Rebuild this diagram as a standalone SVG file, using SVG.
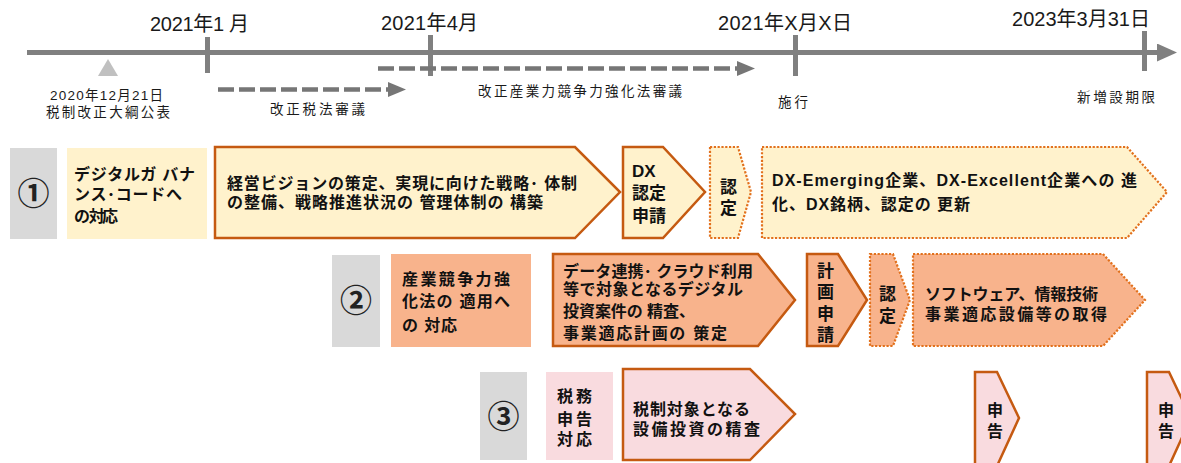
<svg xmlns="http://www.w3.org/2000/svg" width="1181" height="463" viewBox="0 0 1181 463">
<style>
.ax{stroke:#808080;stroke-width:5;fill:none}
.dash{stroke:#767676;stroke-width:4.5;fill:none;stroke-dasharray:16 5}
.lbl{font-family:"Liberation Sans","Noto Sans CJK JP",sans-serif;fill:#1a1a1a}
.big{font-size:20px}
.sm{font-size:13.5px}
.gray{fill:#d9d9d9}
.yel{fill:#fff2cc}
.pch{fill:#f8b38c}
.pnk{fill:#f9dbdf}
.solid{stroke:#c55a11;stroke-width:2.5;stroke-linejoin:miter}
.dot{stroke:#e2711d;stroke-width:2.2;stroke-dasharray:2.2 1.6}
.t{font-family:"Liberation Sans","Noto Sans CJK JP",sans-serif;font-weight:700;font-size:16px;fill:#111}
.t17{font-size:17px}
.num{font-family:"Noto Sans CJK JP",sans-serif;font-weight:700;font-size:32px;fill:#222;text-anchor:middle}
</style>
<defs>
<marker id="axHead" markerUnits="userSpaceOnUse" markerWidth="20" markerHeight="18" viewBox="0 0 20 18" refX="0" refY="9" orient="auto"><path d="M0,0 L20,9 L0,18 z" fill="#808080"/></marker>
<marker id="dHead" markerUnits="userSpaceOnUse" markerWidth="18" markerHeight="15" viewBox="0 0 18 15" refX="0" refY="7.5" orient="auto"><path d="M0,0 L18,7.5 L0,15 z" fill="#767676"/></marker>
</defs>

<g id="timeline">
<line class="ax" x1="27" y1="52.5" x2="1157" y2="52.5" marker-end="url(#axHead)"/>
<line class="ax" x1="207.5" y1="37" x2="207.5" y2="73"/>
<line class="ax" x1="430.5" y1="35" x2="430.5" y2="76"/>
<line class="ax" x1="795.5" y1="35" x2="795.5" y2="76"/>
<line class="ax" x1="1144.5" y1="31" x2="1144.5" y2="71"/>
<polygon points="98,76 108,59 118,76" fill="#c0c0c0"/>
<text class="lbl big" x="150" y="31" textLength="99" lengthAdjust="spacing">2021年1 月</text>
<text class="lbl big" x="381" y="30" textLength="97" lengthAdjust="spacing">2021年4月</text>
<text class="lbl big" x="718" y="30" textLength="134" lengthAdjust="spacing">2021年X月X日</text>
<text class="lbl big" x="1012" y="26" textLength="138" lengthAdjust="spacing">2023年3月31日</text>
<text class="lbl sm" x="50" y="100" textLength="113" lengthAdjust="spacing">2020年12月21日</text>
<text class="lbl sm" x="46" y="117" textLength="124" lengthAdjust="spacing">税制改正大綱公表</text>
<text class="lbl sm" x="270" y="114" textLength="95" lengthAdjust="spacing">改正税法審議</text>
<text class="lbl sm" x="478" y="96" textLength="204" lengthAdjust="spacing">改正産業力競争力強化法審議</text>
<text class="lbl sm" x="778" y="107" textLength="30" lengthAdjust="spacing">施行</text>
<text class="lbl sm" x="1077" y="102" textLength="78" lengthAdjust="spacing">新増設期限</text>
</g>

<g id="connectors">
<line class="dash" x1="218" y1="89.5" x2="388" y2="89.5" marker-end="url(#dHead)"/>
<line class="dash" x1="378" y1="68.5" x2="737" y2="68.5" marker-end="url(#dHead)"/>
</g>

<g id="row1-label"><rect class="gray" x="10" y="148" width="47" height="91"/><text class="num" x="33.5" y="205">①</text></g>
<g id="row1-title"><rect class="yel" x="67" y="148" width="140" height="91"/>
<text class="t" x="74" y="180" textLength="121" lengthAdjust="spacing">デジタルガ バナ</text>
<text class="t" x="74" y="200" textLength="108" lengthAdjust="spacing">ンス･コードへ</text>
<text class="t" x="74" y="222" textLength="44" lengthAdjust="spacing">の 対応</text></g>
<g id="row1-step1"><polygon class="yel solid" points="215,147 575,147 620,192 575,238 215,238"/>
<text class="t" x="227" y="189" textLength="350" lengthAdjust="spacing">経営ビジョンの策定、実現に向けた戦略･ 体制</text>
<text class="t" x="227" y="208" textLength="316" lengthAdjust="spacing">の整備、戦略推進状況の 管理体制の 構築</text></g>
<g id="row1-step2"><polygon class="yel solid" points="623,147 663,147 705,192 663,238 623,238"/>
<text class="t t17" x="632" y="177">DX</text>
<text class="t t17" x="632" y="199">認定</text>
<text class="t t17" x="632" y="222">申請</text></g>
<g id="row1-step3"><polygon class="yel dot" points="710,147 738,147 751,192 738,238 710,238"/>
<text class="t t17" x="720" y="193">認</text>
<text class="t t17" x="720" y="214">定</text></g>
<g id="row1-step4"><polygon class="yel dot" points="762,147 1127,147 1167,192 1127,238 762,238"/>
<text class="t" x="772" y="186" textLength="365" lengthAdjust="spacing">DX-Emerging企業、DX-Excellent企業への 進</text>
<text class="t" x="772" y="210" textLength="198" lengthAdjust="spacing">化、DX銘柄、認定の 更新</text></g>

<g id="row2-label"><rect class="gray" x="332" y="255" width="48" height="92"/><text class="num" x="356" y="312">②</text></g>
<g id="row2-title"><rect class="pch" x="391" y="254" width="140" height="93"/>
<text class="t" x="402" y="285" textLength="108" lengthAdjust="spacing">産業競争力強</text>
<text class="t" x="402" y="307" textLength="108" lengthAdjust="spacing">化法の 適用へ</text>
<text class="t" x="402" y="331" textLength="55" lengthAdjust="spacing">の 対応</text></g>
<g id="row2-step1"><polygon class="pch solid" points="553,254 758,254 795,300 758,346 553,346"/>
<text class="t" x="563" y="277" textLength="190" lengthAdjust="spacing">データ連携･ クラウド利用</text>
<text class="t" x="563" y="295" textLength="180" lengthAdjust="spacing">等で対象となるデジタル</text>
<text class="t" x="563" y="317" textLength="132" lengthAdjust="spacing">投資案件の 精査、</text>
<text class="t" x="563" y="339" textLength="164" lengthAdjust="spacing">事業適応計画の 策定</text></g>
<g id="row2-step2"><polygon class="pch solid" points="807,254 838,254 867,300 838,346 807,346"/>
<text class="t t17" x="817" y="277">計</text>
<text class="t t17" x="817" y="298">画</text>
<text class="t t17" x="817" y="320">申</text>
<text class="t t17" x="817" y="341">請</text></g>
<g id="row2-step3"><polygon class="pch dot" points="870,254 893,254 910,300 893,346 870,346"/>
<text class="t t17" x="879" y="300">認</text>
<text class="t t17" x="879" y="322">定</text></g>
<g id="row2-step4"><polygon class="pch dot" points="913,254 1103,254 1145,300 1103,346 913,346"/>
<text class="t" x="925" y="300" textLength="173" lengthAdjust="spacing">ソフトウェア、情報技術</text>
<text class="t" x="925" y="320" textLength="182" lengthAdjust="spacing">事業適応設備等の取得</text></g>

<g id="row3-label"><rect class="gray" x="480" y="372" width="47" height="88"/><text class="num" x="503.5" y="428">③</text></g>
<g id="row3-title"><rect class="pnk" x="546" y="372" width="67" height="88"/>
<text class="t" x="557" y="402" textLength="35" lengthAdjust="spacing">税務</text>
<text class="t" x="557" y="425" textLength="35" lengthAdjust="spacing">申告</text>
<text class="t" x="557" y="445" textLength="35" lengthAdjust="spacing">対応</text></g>
<g id="row3-step1"><polygon class="pnk solid" points="623,369 750,369 795,414 750,460 623,460"/>
<text class="t" x="633" y="415" textLength="117" lengthAdjust="spacing">税制対象となる</text>
<text class="t" x="633" y="435" textLength="127" lengthAdjust="spacing">設備投資の精査</text></g>
<g id="row3-step2"><polygon class="pnk solid" points="975,372 997,372 1019,418 997,466 975,466"/>
<text class="t" x="987" y="416">申</text>
<text class="t" x="987" y="437">告</text></g>
<g id="row3-step3"><polygon class="pnk solid" points="1147,372 1169,372 1191,418 1169,466 1147,466"/>
<text class="t" x="1158" y="416">申</text>
<text class="t" x="1158" y="437">告</text></g>
</svg>
